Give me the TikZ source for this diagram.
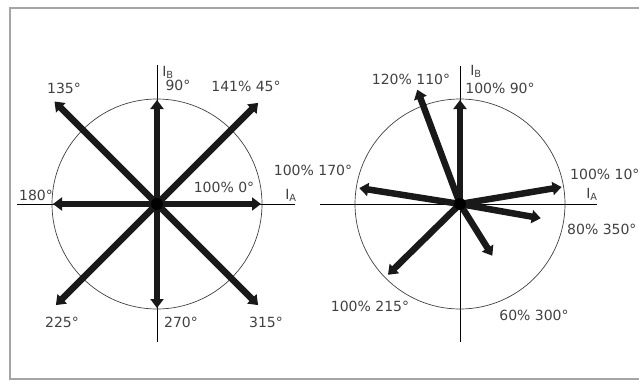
\documentclass[tikz,border=0pt]{standalone}
\usepackage{fontspec}
\setmainfont{DejaVu Sans}
\usetikzlibrary{arrows.meta,calc}
\definecolor{cText}{RGB}{65,65,65}
\definecolor{cFrame}{RGB}{165,165,165}
\tikzset{
  phasor/.style={-{Triangle[length=9bp,width=13bp]},line width=6.5bp,color=black!90},
  axisline/.style={line width=0.8bp,color=black},
  ringline/.style={line width=0.7bp,color=black!75},
  lbl/.style={inner sep=0pt,text=cText,font=\fontsize{14bp}{16bp}\selectfont},
  hubdot/.style={circle,fill=black,inner sep=0pt,minimum size=12bp}
}
\begin{document}
\begin{tikzpicture}[x=1bp,y=1bp]
  \clip (0,0) rectangle (639,383);

  % Frame
  \draw[cFrame,line width=1.6bp] (645,375) -- (10,375) -- (10,4) -- (645,4);

  % Left diagram: axes and circle
  \coordinate (oL) at (157,179);
  \coordinate (axLw) at (17,179);
  \coordinate (axLe) at (295,179);
  \coordinate (axLn) at (157,318);
  \coordinate (axLs) at (157,41);
  \draw[axisline] (axLw) -- (axLe);
  \draw[axisline] (axLs) -- (axLn);
  \draw[ringline] (oL) circle[radius=105];

  % Left diagram: phasors
  \coordinate (tL0)   at ($(oL)+(0:104)$);
  \coordinate (tL45)  at ($(oL)+(45:143)$);
  \coordinate (tL90)  at ($(oL)+(90:104)$);
  \coordinate (tL135) at ($(oL)+(135:145)$);
  \coordinate (tL180) at ($(oL)+(180:104)$);
  \coordinate (tL225) at ($(oL)+(225:143)$);
  \coordinate (tL270) at ($(oL)+(270:104)$);
  \coordinate (tL315) at ($(oL)+(315:143)$);
  \draw[phasor] (oL) -- (tL0);
  \draw[phasor] (oL) -- (tL45);
  \draw[phasor] (oL) -- (tL90);
  \draw[phasor] (oL) -- (tL135);
  \draw[phasor] (oL) -- (tL180);
  \draw[phasor] (oL) -- (tL225);
  \draw[phasor] (oL) -- (tL270);
  \draw[phasor] (oL) -- (tL315);
  \node[hubdot] (hubL) at (oL) {};

  % Left diagram: labels
  \node[lbl] (ibL)    at (168,311) {I\textsubscript{B}};
  \node[lbl] (iaL)    at (291,188) {I\textsubscript{A}};
  \node[lbl] (lbl90)  at (178,298) {90°};
  \node[lbl] (lbl45)  at (246,297) {141\% 45°};
  \node[lbl] (lbl135) at (64,295)  {135°};
  \node[lbl] (lbl0)   at (224,196) {100\% 0°};
  \node[lbl] (lbl180) at (36,188)  {180°};
  \node[lbl] (lbl225) at (62,61)   {225°};
  \node[lbl] (lbl270) at (181,61)  {270°};
  \node[lbl] (lbl315) at (266,61)  {315°};

  % Right diagram: axes and circle
  \coordinate (oR) at (460,179);
  \coordinate (axRw) at (320,179);
  \coordinate (axRe) at (597,179);
  \coordinate (axRn) at (460,317);
  \coordinate (axRs) at (460,41);
  \draw[axisline] (axRw) -- (axRe);
  \draw[axisline] (axRs) -- (axRn);
  \draw[ringline] (oR) circle[radius=105];

  % Right diagram: phasors
  \coordinate (tR90)  at ($(oR)+(90:104)$);
  \coordinate (tR110) at ($(oR)+(110.5:122)$);
  \coordinate (tR170) at ($(oR)+(171:102)$);
  \coordinate (tR10)  at ($(oR)+(9.5:103)$);
  \coordinate (tR350) at ($(oR)+(350:82)$);
  \coordinate (tR300) at ($(oR)+(302:61)$);
  \coordinate (tR215) at ($(oR)+(224.5:101)$);
  \draw[phasor] (oR) -- (tR90);
  \draw[phasor] (oR) -- (tR110);
  \draw[phasor] (oR) -- (tR170);
  \draw[phasor] (oR) -- (tR10);
  \draw[phasor] (oR) -- (tR350);
  \draw[phasor] (oR) -- (tR300);
  \draw[phasor] (oR) -- (tR215);
  \node[hubdot] (hubR) at (oR) {};

  % Right diagram: labels
  \node[lbl] (ibR)     at (476,312) {I\textsubscript{B}};
  \node[lbl] (iaR)     at (592,189) {I\textsubscript{A}};
  \node[lbl] (lblR110) at (411,304) {120\% 110°};
  \node[lbl] (lblR90)  at (500,295) {100\% 90°};
  \node[lbl] (lblR170) at (313,213) {100\% 170°};
  \node[lbl,anchor=west] (lblR10)  at (570,209) {100\% 10°};
  \node[lbl,anchor=west] (lblR350) at (567,154) {80\% 350°};
  \node[lbl] (lblR215) at (370,77)  {100\% 215°};
  \node[lbl] (lblR300) at (534,68)  {60\% 300°};
\end{tikzpicture}
\end{document}
